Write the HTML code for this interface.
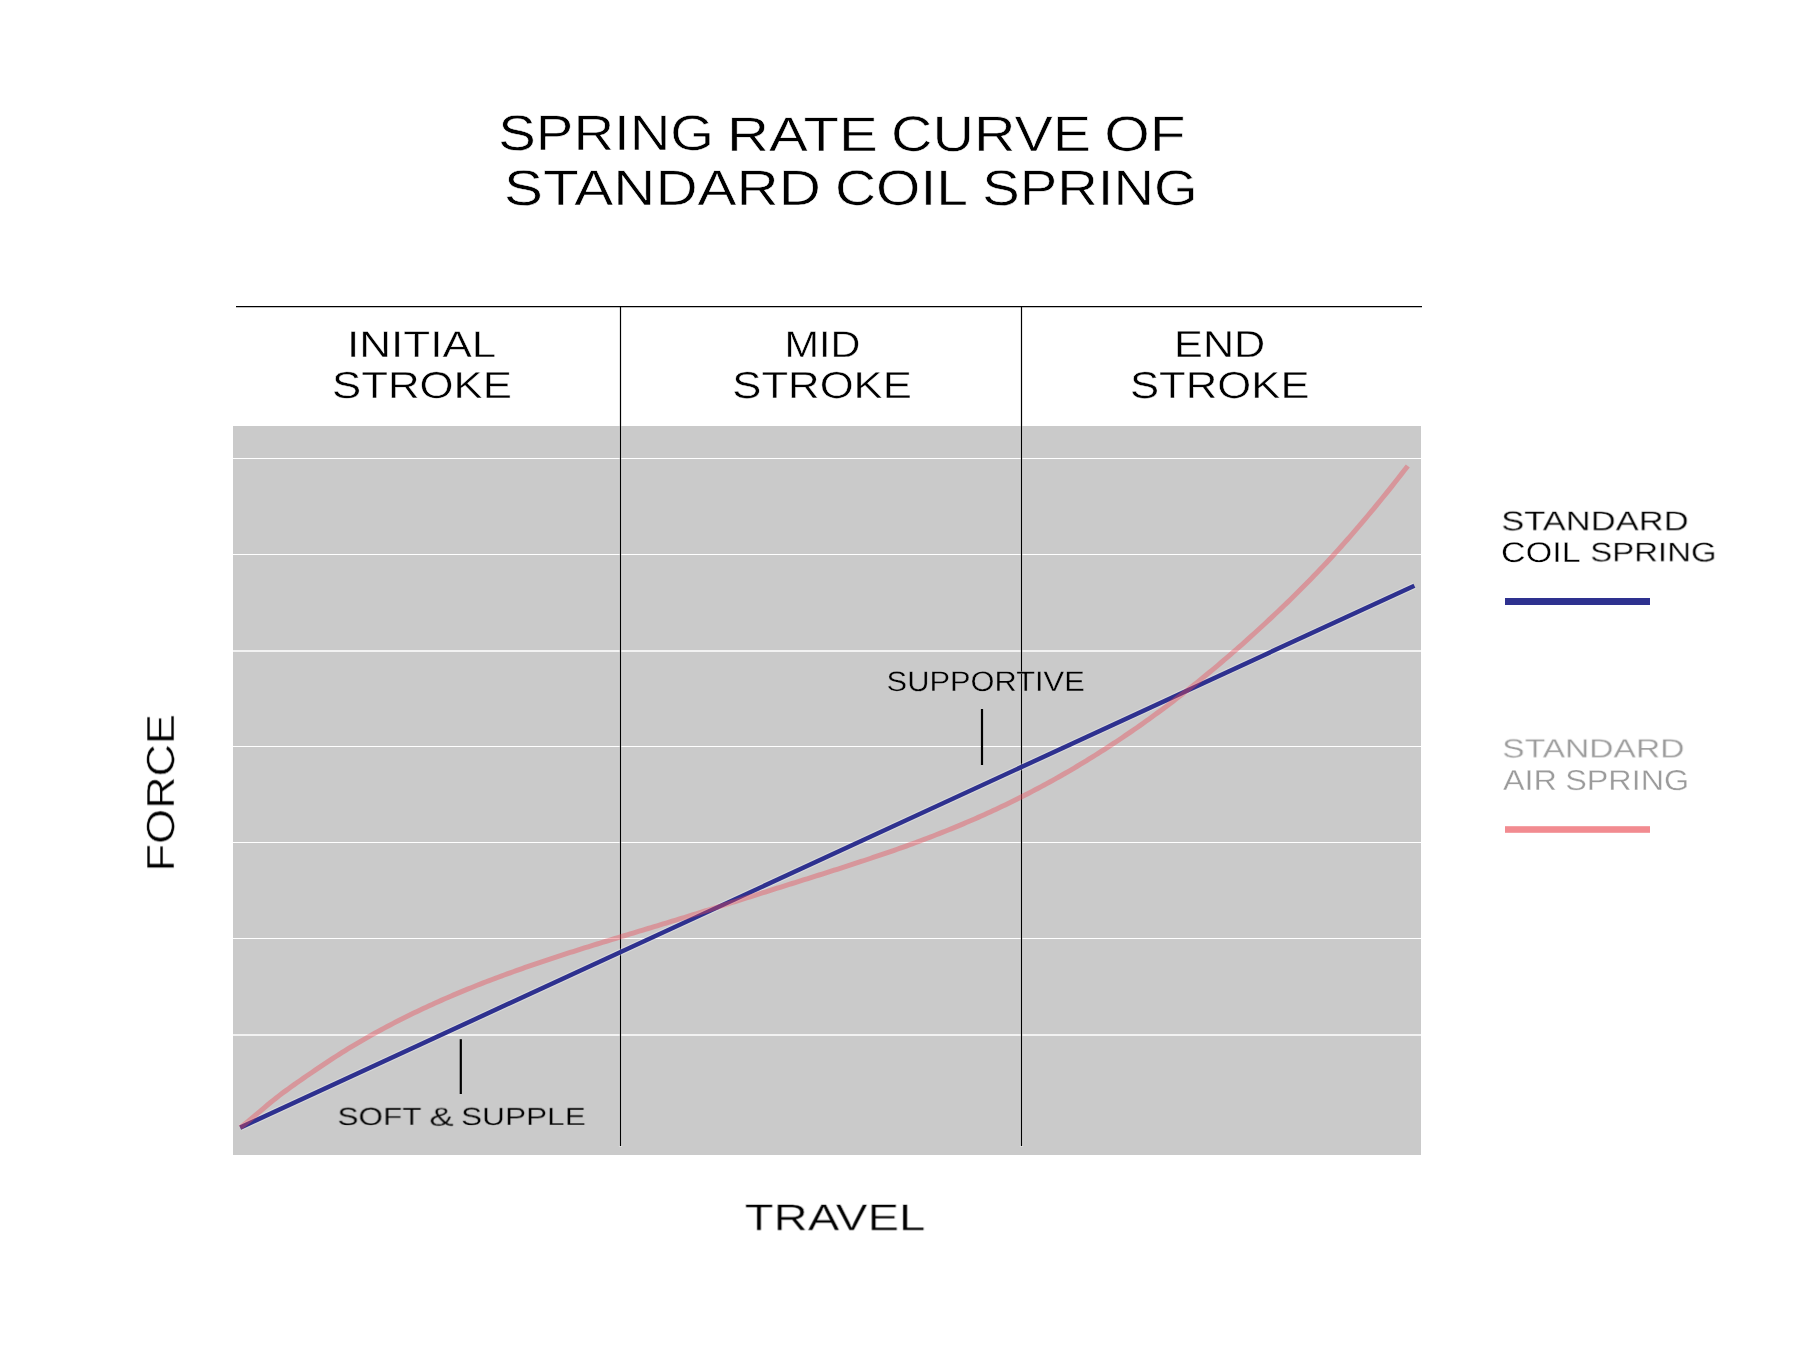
<!DOCTYPE html>
<html><head><meta charset="utf-8"><style>
html,body{margin:0;padding:0;background:#fff;width:1817px;height:1352px;overflow:hidden;position:relative}
.t{position:absolute;left:0;top:0;font-family:"Liberation Sans",sans-serif;line-height:1;white-space:nowrap;transform-origin:0 0;text-rendering:geometricPrecision;will-change:transform}
</style></head><body>
<svg id="chart" width="1817" height="1352" viewBox="0 0 1817 1352" style="position:absolute;left:0;top:0">
<rect x="233" y="426" width="1188" height="729" fill="#cacaca"/>
<g stroke="#fff"><line x1="233" y1="458.5" x2="1421" y2="458.5" stroke-width="1.15" /><line x1="233" y1="554.5" x2="1421" y2="554.5" stroke-width="1.15" /><line x1="233" y1="651.0" x2="1421" y2="651.0" stroke-width="1.6" /><line x1="233" y1="746.5" x2="1421" y2="746.5" stroke-width="1.15" /><line x1="233" y1="842.5" x2="1421" y2="842.5" stroke-width="1.15" /><line x1="233" y1="938.5" x2="1421" y2="938.5" stroke-width="1.15" /><line x1="233" y1="1035.0" x2="1421" y2="1035.0" stroke-width="1.7" /></g>
<line x1="236" y1="306.6" x2="1422" y2="306.6" stroke="#000" stroke-width="1.2"/>
<g stroke="#fff" stroke-opacity="0.3" stroke-width="3.2"><line x1="620.5" y1="426" x2="620.5" y2="1147" /><line x1="1021.5" y1="426" x2="1021.5" y2="1147" /></g>
<line x1="620.5" y1="306" x2="620.5" y2="1146" stroke="#000" stroke-width="1.2"/>
<line x1="1021.5" y1="306" x2="1021.5" y2="1146" stroke="#000" stroke-width="1.2"/>
<line x1="982" y1="709" x2="982" y2="765" stroke="#000" stroke-width="2.2"/>
<line x1="460.8" y1="1039.2" x2="460.8" y2="1094" stroke="#000" stroke-width="2.2"/>
<line x1="240.2" y1="1127.6" x2="1414.4" y2="585.7" stroke="#fff" stroke-opacity="0.3" stroke-width="6.7"/>
<line x1="240.2" y1="1127.6" x2="1414.4" y2="585.7" stroke="#2e318f" stroke-width="4.5"/>
<path d="M240.2,1127.60 L243.2,1125.31 L246.2,1122.94 L249.2,1120.49 L252.2,1118.00 L255.2,1115.47 L258.2,1112.92 L261.2,1110.36 L264.2,1107.81 L267.2,1105.28 L270.2,1102.79 L273.2,1100.35 L276.2,1097.97 L279.2,1095.64 L282.2,1093.36 L285.2,1091.13 L288.2,1088.93 L291.2,1086.76 L294.2,1084.63 L297.2,1082.52 L300.2,1080.43 L303.2,1078.36 L306.2,1076.29 L309.2,1074.24 L312.2,1072.19 L315.2,1070.15 L318.2,1068.13 L321.2,1066.11 L324.2,1064.11 L327.2,1062.12 L330.2,1060.15 L333.2,1058.20 L336.2,1056.27 L339.2,1054.35 L342.2,1052.46 L345.2,1050.59 L348.2,1048.74 L351.2,1046.91 L354.2,1045.11 L357.2,1043.32 L360.2,1041.55 L363.2,1039.81 L366.2,1038.08 L369.2,1036.37 L372.2,1034.69 L375.2,1033.02 L378.2,1031.36 L381.2,1029.73 L384.2,1028.11 L387.2,1026.52 L390.2,1024.93 L393.2,1023.37 L396.2,1021.82 L399.2,1020.29 L402.2,1018.77 L405.2,1017.27 L408.2,1015.79 L411.2,1014.32 L414.2,1012.86 L417.2,1011.42 L420.2,1009.99 L423.2,1008.58 L426.2,1007.18 L429.2,1005.79 L432.2,1004.42 L435.2,1003.06 L438.2,1001.71 L441.2,1000.38 L444.2,999.06 L447.2,997.75 L450.2,996.45 L453.2,995.17 L456.2,993.89 L459.2,992.63 L462.2,991.38 L465.2,990.15 L468.2,988.92 L471.2,987.70 L474.2,986.50 L477.2,985.30 L480.2,984.12 L483.2,982.95 L486.2,981.78 L489.2,980.63 L492.2,979.48 L495.2,978.35 L498.2,977.22 L501.2,976.11 L504.2,975.00 L507.2,973.90 L510.2,972.81 L513.2,971.73 L516.2,970.65 L519.2,969.58 L522.2,968.53 L525.2,967.47 L528.2,966.43 L531.2,965.39 L534.2,964.36 L537.2,963.34 L540.2,962.32 L543.2,961.31 L546.2,960.31 L549.2,959.31 L552.2,958.32 L555.2,957.33 L558.2,956.35 L561.2,955.38 L564.2,954.41 L567.2,953.44 L570.2,952.48 L573.2,951.52 L576.2,950.57 L579.2,949.62 L582.2,948.68 L585.2,947.73 L588.2,946.80 L591.2,945.86 L594.2,944.93 L597.2,944.00 L600.2,943.08 L603.2,942.16 L606.2,941.24 L609.2,940.32 L612.2,939.40 L615.2,938.49 L618.2,937.58 L621.2,936.66 L624.2,935.75 L627.2,934.85 L630.2,933.94 L633.2,933.03 L636.2,932.12 L639.2,931.22 L642.2,930.31 L645.2,929.40 L648.2,928.50 L651.2,927.59 L654.2,926.68 L657.2,925.77 L660.2,924.86 L663.2,923.95 L666.2,923.04 L669.2,922.12 L672.2,921.21 L675.2,920.29 L678.2,919.37 L681.2,918.45 L684.2,917.52 L687.2,916.59 L690.2,915.66 L693.2,914.73 L696.2,913.80 L699.2,912.86 L702.2,911.92 L705.2,910.99 L708.2,910.04 L711.2,909.10 L714.2,908.16 L717.2,907.21 L720.2,906.27 L723.2,905.32 L726.2,904.37 L729.2,903.42 L732.2,902.47 L735.2,901.52 L738.2,900.57 L741.2,899.62 L744.2,898.67 L747.2,897.72 L750.2,896.77 L753.2,895.82 L756.2,894.86 L759.2,893.91 L762.2,892.96 L765.2,892.01 L768.2,891.06 L771.2,890.11 L774.2,889.17 L777.2,888.22 L780.2,887.27 L783.2,886.33 L786.2,885.38 L789.2,884.44 L792.2,883.50 L795.2,882.56 L798.2,881.61 L801.2,880.67 L804.2,879.73 L807.2,878.78 L810.2,877.84 L813.2,876.90 L816.2,875.95 L819.2,875.00 L822.2,874.05 L825.2,873.10 L828.2,872.15 L831.2,871.20 L834.2,870.24 L837.2,869.28 L840.2,868.32 L843.2,867.35 L846.2,866.38 L849.2,865.41 L852.2,864.44 L855.2,863.46 L858.2,862.47 L861.2,861.49 L864.2,860.50 L867.2,859.50 L870.2,858.50 L873.2,857.49 L876.2,856.48 L879.2,855.46 L882.2,854.44 L885.2,853.41 L888.2,852.38 L891.2,851.34 L894.2,850.29 L897.2,849.24 L900.2,848.17 L903.2,847.10 L906.2,846.03 L909.2,844.94 L912.2,843.85 L915.2,842.75 L918.2,841.64 L921.2,840.52 L924.2,839.39 L927.2,838.26 L930.2,837.11 L933.2,835.96 L936.2,834.79 L939.2,833.61 L942.2,832.43 L945.2,831.23 L948.2,830.03 L951.2,828.81 L954.2,827.58 L957.2,826.34 L960.2,825.09 L963.2,823.83 L966.2,822.56 L969.2,821.27 L972.2,819.98 L975.2,818.67 L978.2,817.35 L981.2,816.02 L984.2,814.68 L987.2,813.32 L990.2,811.95 L993.2,810.57 L996.2,809.18 L999.2,807.77 L1002.2,806.35 L1005.2,804.92 L1008.2,803.47 L1011.2,802.01 L1014.2,800.54 L1017.2,799.05 L1020.2,797.55 L1023.2,796.03 L1026.2,794.50 L1029.2,792.96 L1032.2,791.40 L1035.2,789.83 L1038.2,788.24 L1041.2,786.63 L1044.2,785.02 L1047.2,783.39 L1050.2,781.74 L1053.2,780.08 L1056.2,778.40 L1059.2,776.71 L1062.2,775.00 L1065.2,773.28 L1068.2,771.55 L1071.2,769.80 L1074.2,768.03 L1077.2,766.25 L1080.2,764.45 L1083.2,762.64 L1086.2,760.82 L1089.2,758.98 L1092.2,757.12 L1095.2,755.25 L1098.2,753.36 L1101.2,751.46 L1104.2,749.54 L1107.2,747.61 L1110.2,745.66 L1113.2,743.70 L1116.2,741.72 L1119.2,739.72 L1122.2,737.71 L1125.2,735.69 L1128.2,733.65 L1131.2,731.59 L1134.2,729.52 L1137.2,727.43 L1140.2,725.33 L1143.2,723.21 L1146.2,721.07 L1149.2,718.92 L1152.2,716.76 L1155.2,714.58 L1158.2,712.38 L1161.2,710.16 L1164.2,707.93 L1167.2,705.69 L1170.2,703.43 L1173.2,701.15 L1176.2,698.85 L1179.2,696.54 L1182.2,694.22 L1185.2,691.88 L1188.2,689.52 L1191.2,687.14 L1194.2,684.75 L1197.2,682.34 L1200.2,679.92 L1203.2,677.48 L1206.2,675.02 L1209.2,672.55 L1212.2,670.06 L1215.2,667.56 L1218.2,665.04 L1221.2,662.50 L1224.2,659.94 L1227.2,657.37 L1230.2,654.78 L1233.2,652.18 L1236.2,649.56 L1239.2,646.92 L1242.2,644.27 L1245.2,641.60 L1248.2,638.91 L1251.2,636.21 L1254.2,633.49 L1257.2,630.76 L1260.2,628.01 L1263.2,625.25 L1266.2,622.47 L1269.2,619.68 L1272.2,616.87 L1275.2,614.04 L1278.2,611.21 L1281.2,608.35 L1284.2,605.48 L1287.2,602.58 L1290.2,599.67 L1293.2,596.74 L1296.2,593.79 L1299.2,590.81 L1302.2,587.81 L1305.2,584.79 L1308.2,581.75 L1311.2,578.68 L1314.2,575.58 L1317.2,572.46 L1320.2,569.31 L1323.2,566.14 L1326.2,562.93 L1329.2,559.70 L1332.2,556.44 L1335.2,553.15 L1338.2,549.84 L1341.2,546.50 L1344.2,543.13 L1347.2,539.74 L1350.2,536.32 L1353.2,532.87 L1356.2,529.40 L1359.2,525.90 L1362.2,522.38 L1365.2,518.83 L1368.2,515.26 L1371.2,511.67 L1374.2,508.05 L1377.2,504.40 L1380.2,500.73 L1383.2,497.04 L1386.2,493.33 L1389.2,489.59 L1392.2,485.82 L1395.2,482.04 L1398.2,478.23 L1401.2,474.40 L1404.2,470.55 L1407.2,466.68 L1407.8,465.90" fill="none" stroke="#ea4854" stroke-opacity="0.4" stroke-width="5"/>
<rect x="1505" y="598" width="145" height="7" fill="#2e318f"/>
<rect x="1505" y="826.2" width="145" height="6.6" fill="#f28b90"/>
</svg>
<div class="t" style="font-size:48px;color:#000;transform:translate(498.31px,109.93px) scale(1.1728,1.0360);-webkit-text-stroke:0.55px #fff">SPRING</div>
<div class="t" style="font-size:48px;color:#000;transform:translate(727.00px,111.28px) scale(1.2109,1.0097);-webkit-text-stroke:0.52px #fff">RATE</div>
<div class="t" style="font-size:48px;color:#000;transform:translate(891.08px,109.98px) scale(1.1969,1.0420);-webkit-text-stroke:0.55px #fff">CURVE</div>
<div class="t" style="font-size:48px;color:#000;transform:translate(1104.15px,110.27px) scale(1.2199,1.0367);-webkit-text-stroke:0.55px #fff">OF</div>
<div class="t" style="font-size:48px;color:#000;transform:translate(503.93px,164.52px) scale(1.2170,1.0368);-webkit-text-stroke:0.55px #fff">STANDARD</div>
<div class="t" style="font-size:48px;color:#000;transform:translate(834.92px,164.89px) scale(1.1879,1.0358);-webkit-text-stroke:0.55px #fff">COIL</div>
<div class="t" style="font-size:48px;color:#000;transform:translate(982.18px,164.52px) scale(1.1713,1.0367);-webkit-text-stroke:0.55px #fff">SPRING</div>
<div class="t" style="font-size:36px;color:#000;transform:translate(347.01px,325.68px) scale(1.2231,1.0318);-webkit-text-stroke:0.40px #fff">INITIAL</div>
<div class="t" style="font-size:36px;color:#000;transform:translate(331.98px,366.26px) scale(1.2158,1.0441);-webkit-text-stroke:0.42px #fff">STROKE</div>
<div class="t" style="font-size:36px;color:#000;transform:translate(784.56px,325.68px) scale(1.1492,1.0318);-webkit-text-stroke:0.40px #fff">MID</div>
<div class="t" style="font-size:36px;color:#000;transform:translate(732.29px,366.24px) scale(1.2133,1.0446);-webkit-text-stroke:0.42px #fff">STROKE</div>
<div class="t" style="font-size:36px;color:#000;transform:translate(1174.07px,325.31px) scale(1.2001,1.0437);-webkit-text-stroke:0.40px #fff">END</div>
<div class="t" style="font-size:36px;color:#000;transform:translate(1130.00px,366.24px) scale(1.2127,1.0448);-webkit-text-stroke:0.42px #fff">STROKE</div>
<div class="t" style="font-size:38px;color:#000;transform:translate(142.12px,871.37px) rotate(-90deg) scale(1.1826,1.0330);-webkit-text-stroke:0.44px #fff">FORCE</div>
<div class="t" style="font-size:38px;color:#000;transform:translate(744.52px,1200.02px) scale(1.2477,0.9760);-webkit-text-stroke:0.42px #fff">TRAVEL</div>
<div class="t" style="font-size:27px;color:#000;transform:translate(886.62px,668.06px) scale(1.1413,1.0405);-webkit-text-stroke:0.31px #cacaca">SUPPORTIVE</div>
<div class="t" style="font-size:26px;color:#000;transform:translate(337.49px,1103.93px) scale(1.2115,0.9585);-webkit-text-stroke:0.29px #cacaca">SOFT</div>
<div class="t" style="font-size:26px;color:#000;transform:translate(429.14px,1103.66px) scale(1.4134,0.9972);-webkit-text-stroke:0.29px #cacaca">&amp;</div>
<div class="t" style="font-size:26px;color:#000;transform:translate(461.01px,1103.93px) scale(1.2155,0.9583);-webkit-text-stroke:0.29px #cacaca">SUPPLE</div>
<div class="t" style="font-size:28px;color:#000;transform:translate(1501.23px,507.94px) scale(1.2330,0.9730);-webkit-text-stroke:0.30px #fff">STANDARD</div>
<div class="t" style="font-size:28px;color:#000;transform:translate(1501.08px,538.52px) scale(1.2163,1.0150);-webkit-text-stroke:0.32px #fff">COIL</div>
<div class="t" style="font-size:28px;color:#000;transform:translate(1590.23px,539.25px) scale(1.1770,0.9644);-webkit-text-stroke:0.32px #fff">SPRING</div>
<div class="t" style="font-size:28px;color:#9b9b9b;transform:translate(1502.19px,735.84px) scale(1.1995,0.9403);-webkit-text-stroke:0.30px #fff">STANDARD</div>
<div class="t" style="font-size:28px;color:#9b9b9b;transform:translate(1502.92px,766.06px) scale(1.1569,1.0227);-webkit-text-stroke:0.31px #fff">AIR</div>
<div class="t" style="font-size:28px;color:#9b9b9b;transform:translate(1565.21px,766.29px) scale(1.1548,1.0268);-webkit-text-stroke:0.32px #fff">SPRING</div>
</body></html>
